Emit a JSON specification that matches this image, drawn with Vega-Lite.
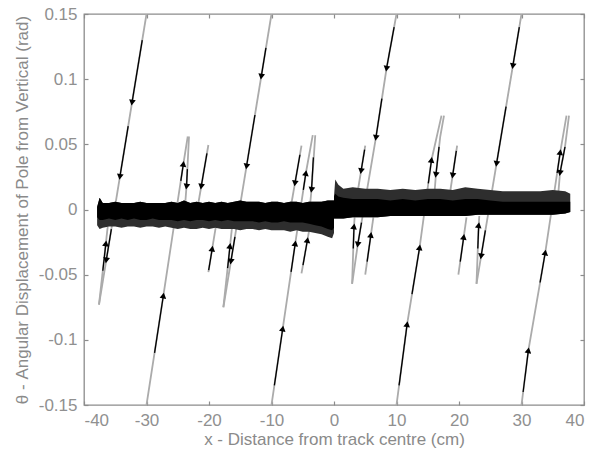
{
  "$schema": "https://vega.github.io/schema/vega-lite/v6.json",
  "width": 500,
  "height": 391,
  "autosize": {"type": "none"},
  "padding": {"left": 84, "top": 14, "right": 18, "bottom": 49},
  "background": "white",
  "config": {
    "view": {"stroke": "#8c8c8c", "strokeWidth": 1.3},
    "axis": {
      "grid": false,
      "domain": false,
      "tickColor": "#8c8c8c",
      "tickWidth": 1.2,
      "labelFont": "Liberation Sans",
      "labelFontSize": 17,
      "labelColor": "#909090",
      "titleFont": "Liberation Sans",
      "titleFontSize": 17,
      "titleFontWeight": "normal",
      "titleColor": "#8a8a8a"
    }
  },
  "datasets": {
    "lines": [
      {"seg": "L1", "i": 0, "x": -30, "y": 0.15}, {"seg": "L1", "i": 1, "x": -37.6, "y": -0.073},
      {"seg": "R1", "i": 0, "x": -37.6, "y": -0.073}, {"seg": "R1", "i": 1, "x": -36.2, "y": -0.013},
      {"seg": "U1", "i": 0, "x": -30, "y": -0.15}, {"seg": "U1", "i": 1, "x": -27.3, "y": -0.066}, {"seg": "U1", "i": 2, "x": -24.1, "y": 0.035}, {"seg": "U1", "i": 3, "x": -23.4, "y": 0.056},
      {"seg": "D1", "i": 0, "x": -23.2, "y": 0.056}, {"seg": "D1", "i": 1, "x": -23.6, "y": 0.0175}, {"seg": "D1", "i": 2, "x": -23.8, "y": 0.005},
      {"seg": "S1u", "i": 0, "x": -20.1, "y": 0.0495}, {"seg": "S1u", "i": 1, "x": -21.7, "y": 0.005},
      {"seg": "S1l", "i": 0, "x": -20.1, "y": -0.048}, {"seg": "S1l", "i": 1, "x": -18.9, "y": -0.013},
      {"seg": "L2", "i": 0, "x": -10, "y": 0.15}, {"seg": "L2", "i": 1, "x": -17.7, "y": -0.075},
      {"seg": "R2", "i": 0, "x": -17.7, "y": -0.075}, {"seg": "R2", "i": 1, "x": -16.3, "y": -0.013},
      {"seg": "U2", "i": 0, "x": -10, "y": -0.15}, {"seg": "U2", "i": 1, "x": -6.2, "y": -0.026}, {"seg": "U2", "i": 2, "x": -4.5, "y": 0.028}, {"seg": "U2", "i": 3, "x": -3.4, "y": 0.057},
      {"seg": "D2", "i": 0, "x": -3.0, "y": 0.057}, {"seg": "D2", "i": 1, "x": -3.6, "y": 0.015}, {"seg": "D2", "i": 2, "x": -3.8, "y": 0.005},
      {"seg": "S2u", "i": 0, "x": -5.2, "y": 0.049}, {"seg": "S2u", "i": 1, "x": -6.8, "y": 0.005},
      {"seg": "S2l", "i": 0, "x": -5.2, "y": -0.049}, {"seg": "S2l", "i": 1, "x": -3.9, "y": -0.014},
      {"seg": "S3u", "i": 0, "x": 5.0, "y": 0.049}, {"seg": "S3u", "i": 1, "x": 3.8, "y": 0.014},
      {"seg": "S3l", "i": 0, "x": 5.0, "y": -0.05}, {"seg": "S3l", "i": 1, "x": 6.3, "y": -0.006},
      {"seg": "L3", "i": 0, "x": 10, "y": 0.15}, {"seg": "L3", "i": 1, "x": 8.4, "y": 0.108}, {"seg": "L3", "i": 2, "x": 6.7, "y": 0.055}, {"seg": "L3", "i": 3, "x": 3.8, "y": -0.027}, {"seg": "L3", "i": 4, "x": 2.9, "y": -0.057},
      {"seg": "R3", "i": 0, "x": 2.9, "y": -0.057}, {"seg": "R3", "i": 1, "x": 3.2, "y": -0.013}, {"seg": "R3", "i": 2, "x": 3.3, "y": -0.006},
      {"seg": "U3", "i": 0, "x": 10, "y": -0.15}, {"seg": "U3", "i": 1, "x": 11.7, "y": -0.088}, {"seg": "U3", "i": 2, "x": 13.7, "y": -0.029}, {"seg": "U3", "i": 3, "x": 15.6, "y": 0.038}, {"seg": "U3", "i": 4, "x": 17.2, "y": 0.072},
      {"seg": "D3", "i": 0, "x": 17.6, "y": 0.072}, {"seg": "D3", "i": 1, "x": 17.0, "y": 0.056}, {"seg": "D3", "i": 2, "x": 16.3, "y": 0.0265}, {"seg": "D3", "i": 3, "x": 16.1, "y": 0.014},
      {"seg": "S4u", "i": 0, "x": 19.7, "y": 0.049}, {"seg": "S4u", "i": 1, "x": 18.6, "y": 0.014},
      {"seg": "S4l", "i": 0, "x": 19.9, "y": -0.05}, {"seg": "S4l", "i": 1, "x": 21.2, "y": -0.006},
      {"seg": "L4", "i": 0, "x": 30, "y": 0.15}, {"seg": "L4", "i": 1, "x": 22.8, "y": -0.057},
      {"seg": "R4", "i": 0, "x": 22.8, "y": -0.057}, {"seg": "R4", "i": 1, "x": 23.15, "y": -0.012}, {"seg": "R4", "i": 2, "x": 23.25, "y": -0.005},
      {"seg": "U4", "i": 0, "x": 30, "y": -0.15}, {"seg": "U4", "i": 1, "x": 31.1, "y": -0.108}, {"seg": "U4", "i": 2, "x": 33.8, "y": -0.033}, {"seg": "U4", "i": 3, "x": 36.2, "y": 0.044}, {"seg": "U4", "i": 4, "x": 37.2, "y": 0.072},
      {"seg": "D4", "i": 0, "x": 37.6, "y": 0.072}, {"seg": "D4", "i": 1, "x": 36.96, "y": 0.048}, {"seg": "D4", "i": 2, "x": 36.16, "y": 0.028}, {"seg": "D4", "i": 3, "x": 35.9, "y": 0.013}
    ],
    "band": [
      {"part": "left", "x": -37.9, "hi": 0.002, "lo": -0.012, "chi": 0.002, "clo": -0.006},
      {"part": "left", "x": -37.5, "hi": 0.009, "lo": -0.015, "chi": 0.009, "clo": -0.008},
      {"part": "left", "x": -37.0, "hi": 0.005, "lo": -0.014, "chi": 0.005, "clo": -0.008},
      {"part": "left", "x": -36, "hi": 0.005, "lo": -0.013, "chi": 0.005, "clo": -0.007},
      {"part": "left", "x": -35, "hi": 0.006, "lo": -0.013, "chi": 0.006, "clo": -0.008},
      {"part": "left", "x": -34, "hi": 0.005, "lo": -0.014, "chi": 0.005, "clo": -0.007},
      {"part": "left", "x": -33, "hi": 0.005, "lo": -0.013, "chi": 0.005, "clo": -0.008},
      {"part": "left", "x": -32, "hi": 0.005, "lo": -0.013, "chi": 0.005, "clo": -0.007},
      {"part": "left", "x": -31, "hi": 0.006, "lo": -0.014, "chi": 0.006, "clo": -0.008},
      {"part": "left", "x": -30, "hi": 0.005, "lo": -0.013, "chi": 0.005, "clo": -0.008},
      {"part": "left", "x": -29, "hi": 0.005, "lo": -0.013, "chi": 0.005, "clo": -0.007},
      {"part": "left", "x": -28, "hi": 0.005, "lo": -0.014, "chi": 0.005, "clo": -0.008},
      {"part": "left", "x": -27, "hi": 0.005, "lo": -0.013, "chi": 0.005, "clo": -0.008},
      {"part": "left", "x": -26, "hi": 0.006, "lo": -0.014, "chi": 0.006, "clo": -0.008},
      {"part": "left", "x": -25, "hi": 0.005, "lo": -0.015, "chi": 0.005, "clo": -0.009},
      {"part": "left", "x": -24, "hi": 0.007, "lo": -0.014, "chi": 0.007, "clo": -0.008},
      {"part": "left", "x": -23, "hi": 0.005, "lo": -0.015, "chi": 0.005, "clo": -0.009},
      {"part": "left", "x": -22, "hi": 0.006, "lo": -0.015, "chi": 0.006, "clo": -0.008},
      {"part": "left", "x": -21, "hi": 0.005, "lo": -0.014, "chi": 0.005, "clo": -0.008},
      {"part": "left", "x": -20, "hi": 0.006, "lo": -0.015, "chi": 0.006, "clo": -0.009},
      {"part": "left", "x": -19, "hi": 0.005, "lo": -0.014, "chi": 0.005, "clo": -0.008},
      {"part": "left", "x": -18, "hi": 0.006, "lo": -0.015, "chi": 0.006, "clo": -0.009},
      {"part": "left", "x": -17, "hi": 0.005, "lo": -0.015, "chi": 0.005, "clo": -0.008},
      {"part": "left", "x": -16, "hi": 0.006, "lo": -0.015, "chi": 0.006, "clo": -0.009},
      {"part": "left", "x": -15, "hi": 0.007, "lo": -0.016, "chi": 0.007, "clo": -0.009},
      {"part": "left", "x": -14, "hi": 0.006, "lo": -0.015, "chi": 0.006, "clo": -0.009},
      {"part": "left", "x": -13, "hi": 0.006, "lo": -0.015, "chi": 0.006, "clo": -0.009},
      {"part": "left", "x": -12, "hi": 0.006, "lo": -0.016, "chi": 0.006, "clo": -0.010},
      {"part": "left", "x": -11, "hi": 0.005, "lo": -0.015, "chi": 0.005, "clo": -0.009},
      {"part": "left", "x": -10, "hi": 0.006, "lo": -0.016, "chi": 0.006, "clo": -0.010},
      {"part": "left", "x": -9, "hi": 0.006, "lo": -0.016, "chi": 0.006, "clo": -0.010},
      {"part": "left", "x": -8, "hi": 0.005, "lo": -0.016, "chi": 0.005, "clo": -0.009},
      {"part": "left", "x": -7, "hi": 0.006, "lo": -0.017, "chi": 0.006, "clo": -0.010},
      {"part": "left", "x": -6, "hi": 0.006, "lo": -0.016, "chi": 0.006, "clo": -0.010},
      {"part": "left", "x": -5, "hi": 0.005, "lo": -0.017, "chi": 0.005, "clo": -0.010},
      {"part": "left", "x": -4, "hi": 0.006, "lo": -0.017, "chi": 0.006, "clo": -0.011},
      {"part": "left", "x": -3, "hi": 0.006, "lo": -0.018, "chi": 0.006, "clo": -0.012},
      {"part": "left", "x": -2, "hi": 0.006, "lo": -0.019, "chi": 0.006, "clo": -0.013},
      {"part": "left", "x": -1, "hi": 0.007, "lo": -0.021, "chi": 0.007, "clo": -0.015},
      {"part": "left", "x": -0.3, "hi": 0.007, "lo": -0.022, "chi": 0.007, "clo": -0.016},
      {"part": "left", "x": 0, "hi": 0.007, "lo": -0.018, "chi": 0.007, "clo": -0.014},
      {"part": "right", "x": 0, "hi": 0.010, "lo": -0.007, "chi": 0.010, "clo": -0.007},
      {"part": "right", "x": 0.2, "hi": 0.023, "lo": -0.007, "chi": 0.012, "clo": -0.007},
      {"part": "right", "x": 0.7, "hi": 0.019, "lo": -0.007, "chi": 0.010, "clo": -0.007},
      {"part": "right", "x": 1.5, "hi": 0.016, "lo": -0.007, "chi": 0.009, "clo": -0.007},
      {"part": "right", "x": 3, "hi": 0.017, "lo": -0.006, "chi": 0.008, "clo": -0.006},
      {"part": "right", "x": 5, "hi": 0.016, "lo": -0.006, "chi": 0.008, "clo": -0.006},
      {"part": "right", "x": 7, "hi": 0.016, "lo": -0.006, "chi": 0.008, "clo": -0.006},
      {"part": "right", "x": 9, "hi": 0.015, "lo": -0.005, "chi": 0.007, "clo": -0.005},
      {"part": "right", "x": 11, "hi": 0.016, "lo": -0.005, "chi": 0.008, "clo": -0.005},
      {"part": "right", "x": 13, "hi": 0.015, "lo": -0.005, "chi": 0.007, "clo": -0.005},
      {"part": "right", "x": 15, "hi": 0.016, "lo": -0.005, "chi": 0.008, "clo": -0.005},
      {"part": "right", "x": 17, "hi": 0.016, "lo": -0.005, "chi": 0.008, "clo": -0.005},
      {"part": "right", "x": 19, "hi": 0.015, "lo": -0.005, "chi": 0.007, "clo": -0.005},
      {"part": "right", "x": 21, "hi": 0.017, "lo": -0.005, "chi": 0.008, "clo": -0.005},
      {"part": "right", "x": 23, "hi": 0.016, "lo": -0.004, "chi": 0.008, "clo": -0.004},
      {"part": "right", "x": 25, "hi": 0.015, "lo": -0.004, "chi": 0.007, "clo": -0.004},
      {"part": "right", "x": 27, "hi": 0.014, "lo": -0.004, "chi": 0.006, "clo": -0.004},
      {"part": "right", "x": 29, "hi": 0.014, "lo": -0.004, "chi": 0.006, "clo": -0.004},
      {"part": "right", "x": 31, "hi": 0.014, "lo": -0.004, "chi": 0.006, "clo": -0.004},
      {"part": "right", "x": 33, "hi": 0.014, "lo": -0.004, "chi": 0.006, "clo": -0.004},
      {"part": "right", "x": 35, "hi": 0.015, "lo": -0.004, "chi": 0.006, "clo": -0.004},
      {"part": "right", "x": 37, "hi": 0.014, "lo": -0.003, "chi": 0.006, "clo": -0.003},
      {"part": "right", "x": 37.8, "hi": 0.012, "lo": -0.002, "chi": 0.006, "clo": -0.002}
    ],
    "arrows": [
      {"xs": -30.68, "ys": 0.130, "xe": -32.32, "ye": 0.082, "dir": "down"},
      {"xs": -32.93, "ys": 0.064, "xe": -34.26, "ye": 0.025, "dir": "down"},
      {"xs": -35.62, "ys": -0.015, "xe": -36.44, "ye": -0.039, "dir": "down"},
      {"xs": -36.99, "ys": -0.047, "xe": -36.50, "ye": -0.026, "dir": "up"},
      {"xs": -28.71, "ys": -0.110, "xe": -27.3, "ye": -0.066, "dir": "up"},
      {"xs": -24.51, "ys": 0.022, "xe": -24.1, "ye": 0.035, "dir": "up"},
      {"xs": -23.46, "ys": 0.031, "xe": -23.6, "ye": 0.0175, "dir": "down"},
      {"xs": -20.33, "ys": 0.043, "xe": -21.25, "ye": 0.0175, "dir": "down"},
      {"xs": -20.05, "ys": -0.0465, "xe": -19.48, "ye": -0.030, "dir": "up"},
      {"xs": -10.89, "ys": 0.124, "xe": -11.64, "ye": 0.102, "dir": "down"},
      {"xs": -12.65, "ys": 0.0725, "xe": -14.0, "ye": 0.033, "dir": "down"},
      {"xs": -15.85, "ys": -0.021, "xe": -16.5, "ye": -0.040, "dir": "down"},
      {"xs": -17.02, "ys": -0.045, "xe": -16.64, "ye": -0.028, "dir": "up"},
      {"xs": -9.54, "ys": -0.135, "xe": -8.2, "ye": -0.0913, "dir": "up"},
      {"xs": -6.87, "ys": -0.0478, "xe": -6.2, "ye": -0.026, "dir": "up"},
      {"xs": -4.91, "ys": 0.015, "xe": -4.5, "ye": 0.028, "dir": "up"},
      {"xs": -3.30, "ys": 0.040, "xe": -3.6, "ye": 0.015, "dir": "down"},
      {"xs": -5.45, "ys": 0.042, "xe": -6.25, "ye": 0.020, "dir": "down"},
      {"xs": -4.96, "ys": -0.0426, "xe": -4.25, "ye": -0.0234, "dir": "up"},
      {"xs": 4.90, "ys": 0.046, "xe": 4.33, "ye": 0.0295, "dir": "down"},
      {"xs": 5.30, "ys": -0.040, "xe": 5.90, "ye": -0.0195, "dir": "up"},
      {"xs": 9.62, "ys": 0.140, "xe": 8.4, "ye": 0.108, "dir": "down"},
      {"xs": 7.66, "ys": 0.085, "xe": 6.7, "ye": 0.055, "dir": "down"},
      {"xs": 4.40, "ys": -0.010, "xe": 3.8, "ye": -0.027, "dir": "down"},
      {"xs": 3.08, "ys": -0.030, "xe": 3.2, "ye": -0.013, "dir": "up"},
      {"xs": 10.41, "ys": -0.135, "xe": 11.7, "ye": -0.088, "dir": "up"},
      {"xs": 12.48, "ys": -0.065, "xe": 13.7, "ye": -0.029, "dir": "up"},
      {"xs": 15.09, "ys": 0.020, "xe": 15.6, "ye": 0.038, "dir": "up"},
      {"xs": 16.81, "ys": 0.048, "xe": 16.3, "ye": 0.0265, "dir": "down"},
      {"xs": 19.57, "ys": 0.045, "xe": 18.98, "ye": 0.026, "dir": "down"},
      {"xs": 20.20, "ys": -0.040, "xe": 20.76, "ye": -0.021, "dir": "up"},
      {"xs": 29.65, "ys": 0.140, "xe": 28.61, "ye": 0.110, "dir": "down"},
      {"xs": 27.53, "ys": 0.079, "xe": 26.0, "ye": 0.035, "dir": "down"},
      {"xs": 24.22, "ys": -0.016, "xe": 23.53, "ye": -0.036, "dir": "down"},
      {"xs": 23.01, "ys": -0.030, "xe": 23.15, "ye": -0.012, "dir": "up"},
      {"xs": 30.26, "ys": -0.140, "xe": 31.1, "ye": -0.108, "dir": "up"},
      {"xs": 32.97, "ys": -0.056, "xe": 33.8, "ye": -0.033, "dir": "up"},
      {"xs": 35.7, "ys": 0.028, "xe": 36.2, "ye": 0.044, "dir": "up"},
      {"xs": 36.96, "ys": 0.048, "xe": 36.16, "ye": 0.028, "dir": "down"}
    ]
  },
  "layer": [
    {
      "data": {"name": "lines"},
      "mark": {"type": "line", "color": "#ababab", "strokeWidth": 1.8, "clip": true},
      "encoding": {
        "x": {"field": "x", "type": "quantitative", "scale": {"domain": [-40, 40], "nice": false, "zero": false},
              "axis": {"orient": "top", "values": [-40, -30, -20, -10, 0, 10, 20, 30, 40], "labels": false, "tickSize": -4, "title": null}},
        "y": {"field": "y", "type": "quantitative", "scale": {"domain": [-0.15, 0.15], "nice": false, "zero": false},
              "axis": {"orient": "right", "values": [-0.15, -0.1, -0.05, 0, 0.05, 0.1, 0.15], "labels": false, "tickSize": -4, "title": null}},
        "detail": {"field": "seg"},
        "order": {"field": "i", "type": "quantitative"}
      }
    },
    {
      "data": {"name": "band"},
      "mark": {"type": "area", "color": "#2e2e2e", "opacity": 1, "clip": true},
      "encoding": {
        "x": {"field": "x", "type": "quantitative",
              "axis": {"orient": "bottom", "values": [-40, -30, -20, -10, 0, 10, 20, 30, 40], "labelExpr": "'' + datum.value", "tickSize": -4, "labelPadding": 11, "titlePadding": 3, "title": "x -  Distance from track centre (cm)"}},
        "y": {"field": "hi", "type": "quantitative",
              "axis": {"orient": "left", "values": [-0.15, -0.1, -0.05, 0, 0.05, 0.1, 0.15], "labelExpr": "'' + datum.value", "tickSize": -4, "labelPadding": 11, "titlePadding": 7, "title": "θ - Angular Displacement of Pole from Vertical (rad)"}},
        "y2": {"field": "lo"},
        "detail": {"field": "part"}
      }
    },
    {
      "data": {"name": "band"},
      "mark": {"type": "area", "color": "#000000", "opacity": 1, "clip": true},
      "encoding": {
        "x": {"field": "x", "type": "quantitative", "axis": null},
        "y": {"field": "chi", "type": "quantitative", "axis": null},
        "y2": {"field": "clo"},
        "detail": {"field": "part"}
      }
    },
    {
      "data": {"name": "arrows"},
      "mark": {"type": "rule", "color": "#000000", "strokeWidth": 1.3},
      "encoding": {
        "x": {"field": "xs", "type": "quantitative", "axis": null},
        "y": {"field": "ys", "type": "quantitative", "axis": null},
        "x2": {"field": "xe"},
        "y2": {"field": "ye"}
      }
    },
    {
      "data": {"name": "arrows"},
      "mark": {"type": "point", "filled": true, "color": "#000000", "opacity": 1, "size": 45, "angle": 9},
      "encoding": {
        "x": {"field": "xe", "type": "quantitative", "axis": null},
        "y": {"field": "ye", "type": "quantitative", "axis": null},
        "shape": {"field": "dir", "type": "nominal", "scale": {"domain": ["up", "down"], "range": ["triangle-up", "triangle-down"]}, "legend": null}
      }
    }
  ],
  "resolve": {"axis": {"x": "independent", "y": "independent"}}
}
